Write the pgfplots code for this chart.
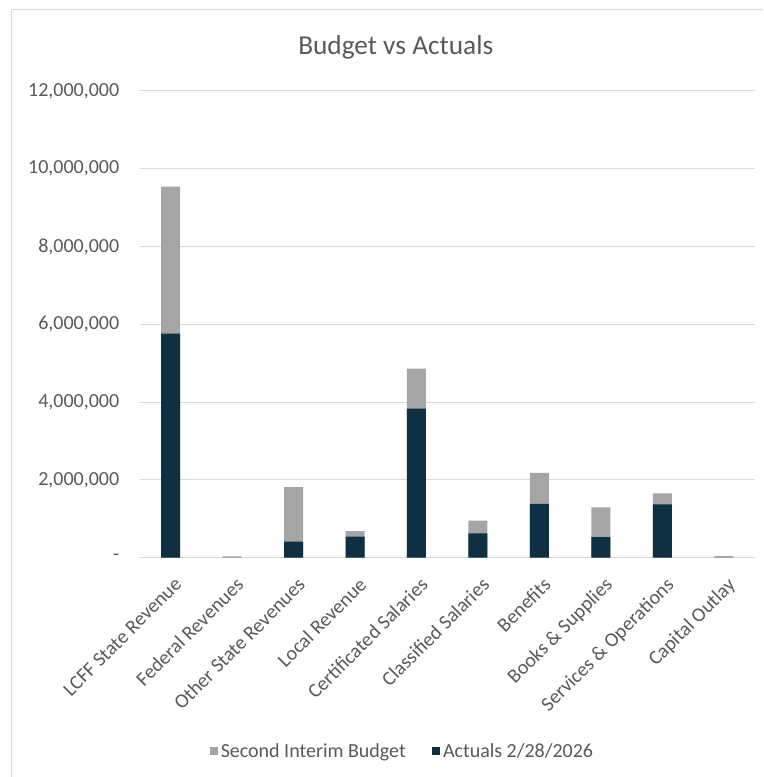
\documentclass[border=0pt]{standalone}
\usepackage{fontspec}
\setmainfont{Carlito}
\usepackage{pgfplots}
\pgfplotsset{compat=1.18}
\definecolor{txt}{HTML}{595959}
\definecolor{gridc}{HTML}{D9D9D9}
\definecolor{budget}{HTML}{A5A5A5}
\definecolor{actual}{HTML}{0E3042}
\begin{document}
\begin{tikzpicture}
\path (0,0) rectangle (572.25pt,582.75pt);
\draw[gridc, line width=0.75pt] (9pt,0) -- (9pt,575.25pt) -- (572.25pt,575.25pt);
\node[text=txt, font=\fontsize{20.5}{24}\selectfont] at (297pt,547.5pt) {Budget vs Actuals};
\begin{axis}[
  at={(105pt,164.25pt)}, anchor=south west,
  scale only axis, width=461.25pt, height=350.25pt,
  xmin=-0.5, xmax=9.5, ymin=0, ymax=12000000,
  xtick=data,
  xticklabels={LCFF State Revenue, Federal Revenues, Other State Revenues, Local Revenue, Certificated Salaries, Classified Salaries, Benefits, Books \& Supplies, Services \& Operations, Capital Outlay},
  ytick={0,2000000,4000000,6000000,8000000,10000000,12000000},
  yticklabels={-, {2,000,000}, {4,000,000}, {6,000,000}, {8,000,000}, {10,000,000}, {12,000,000}},
  scaled y ticks=false,
  ymajorgrids, grid style={gridc, line width=0.75pt},
  axis line style={draw=none},
  major tick length=0pt,
  /pgf/number format/assume math mode=true,
  tick label style={text=txt, font=\fontsize{15}{18}\selectfont},
  yticklabel style={xshift=-12pt},
  xticklabel style={rotate=45, anchor=north east, yshift=-8pt, xshift=-5pt},
  ybar, bar width=14.25pt, bar shift=0pt,
  legend style={at={(0.428,-0.415)}, anchor=center, draw=none, legend columns=2,
    font=\fontsize{15}{18}\selectfont, text=txt, /tikz/every even column/.append style={column sep=18pt}},
  legend image code/.code={\fill[#1] (0pt,-3pt) rectangle (6pt,3pt);},
]
\addplot[fill=budget, draw=none] coordinates {(0,9540000) (1,30000) (2,1810000) (3,680000) (4,4860000) (5,950000) (6,2180000) (7,1290000) (8,1650000) (9,40000)};
\addlegendentry{Second Interim Budget}
\addplot[fill=actual, draw=none] coordinates {(0,5760000) (1,0) (2,410000) (3,540000) (4,3830000) (5,625000) (6,1380000) (7,530000) (8,1370000) (9,0)};
\addlegendentry{Actuals 2/28/2026}
\end{axis}
\end{tikzpicture}
\end{document}
